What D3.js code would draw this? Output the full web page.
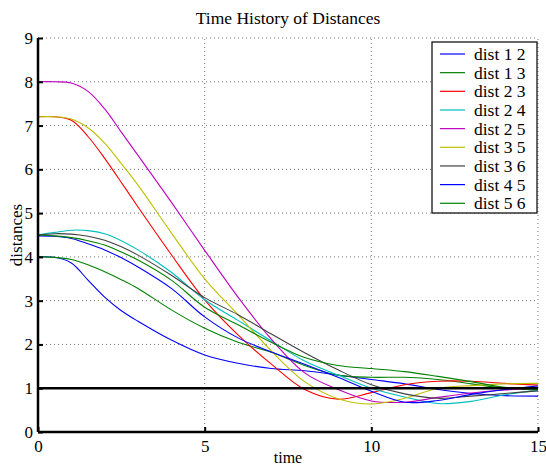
<!DOCTYPE html>
<html>
<head>
<meta charset="utf-8">
<script src="https://cdn.jsdelivr.net/npm/d3@7"></script>
<style>
  body { margin: 0; background: #fff; }
  svg text { font-family: "Liberation Serif", "Times New Roman", Times, "DejaVu Serif", serif; }
</style>
</head>
<body>
<div id="chart"></div>
<script>
// sample times
const times = [0, 0.5, 1, 1.5, 2, 2.5, 3, 4, 5, 6, 7, 8, 9, 10, 11, 12, 13, 14, 15];

const dist12 = [4.0, 3.99, 3.86, 3.47, 3.08, 2.77, 2.53, 2.1, 1.76, 1.57, 1.45, 1.4, 1.3, 1.2, 1.1, 0.97, 0.88, 0.83, 0.82];
const dist13 = [4.0, 3.99, 3.94, 3.82, 3.66, 3.48, 3.28, 2.79, 2.37, 2.05, 1.82, 1.52, 1.3, 1.25, 1.25, 1.2, 1.1, 1.0, 0.96];
const dist23 = [7.2, 7.2, 7.12, 6.75, 6.25, 5.7, 5.14, 4.05, 3.02, 2.22, 1.55, 0.97, 0.75, 0.9, 1.08, 1.16, 1.16, 1.11, 1.07];
const dist24 = [4.5, 4.56, 4.61, 4.6, 4.53, 4.37, 4.16, 3.65, 3.02, 2.55, 2.08, 1.62, 1.3, 1.0, 0.8, 0.65, 0.7, 0.85, 0.95];
const dist25 = [8.0, 8.0, 7.97, 7.78, 7.38, 6.85, 6.32, 5.25, 4.15, 3.08, 2.12, 1.35, 0.97, 0.71, 0.68, 0.79, 0.89, 0.96, 1.0];
const dist35 = [7.2, 7.2, 7.15, 6.95, 6.6, 6.13, 5.64, 4.55, 3.5, 2.68, 1.85, 1.15, 0.76, 0.64, 0.77, 1.0, 1.06, 1.1, 1.11];
const dist36 = [4.5, 4.53, 4.52, 4.47, 4.38, 4.23, 4.04, 3.58, 3.07, 2.68, 2.24, 1.81, 1.42, 1.08, 0.87, 0.77, 0.82, 0.88, 0.94];
const dist45 = [4.48, 4.47, 4.42, 4.3, 4.16, 3.98, 3.77, 3.28, 2.63, 2.15, 1.83, 1.55, 1.25, 0.93, 0.68, 0.72, 0.86, 0.97, 1.05];
const dist56 = [4.5, 4.48, 4.44, 4.37, 4.27, 4.11, 3.93, 3.47, 2.85, 2.45, 2.05, 1.7, 1.52, 1.45, 1.38, 1.27, 1.15, 1.02, 0.98];

const seriesNames = ["dist 1 2", "dist 1 3", "dist 2 3", "dist 2 4", "dist 2 5", "dist 3 5", "dist 3 6", "dist 4 5", "dist 5 6"];
const seriesValues = [dist12, dist13, dist23, dist24, dist25, dist35, dist36, dist45, dist56];
const seriesColors = ["#0000ff", "#008000", "#ff0000", "#00bfbf", "#bf00bf", "#bfbf00", "#404040", "#0000ff", "#008000"];

const xTicks = [0, 5, 10, 15];
const yTicks = [0, 1, 2, 3, 4, 5, 6, 7, 8, 9];
const threshold = 1;

const W = 546, H = 468;
const margin = { top: 38, right: 8, bottom: 36, left: 38 };
const serif = '"Liberation Serif", "Times New Roman", Times, serif';

const svg = d3.select("#chart")
  .append("svg")
  .attr("width", W)
  .attr("height", H);

const x = d3.scaleLinear().domain([0, 15]).range([margin.left, W - margin.right]);
const y = d3.scaleLinear().domain([0, 9]).range([H - margin.bottom, margin.top]);

// dotted grid
svg.append("g")
  .selectAll("line")
  .data(yTicks.slice(1))
  .join("line")
  .attr("x1", x(0)).attr("x2", x(15))
  .attr("y1", d => y(d)).attr("y2", d => y(d))
  .attr("stroke", "#777")
  .attr("stroke-dasharray", "1,3");

svg.append("g")
  .selectAll("line")
  .data(xTicks.slice(1))
  .join("line")
  .attr("y1", y(0)).attr("y2", y(9))
  .attr("x1", d => x(d)).attr("x2", d => x(d))
  .attr("stroke", "#777")
  .attr("stroke-dasharray", "1,3");

// distance curves
const line = d3.line()
  .x((d, i) => x(times[i]))
  .y(d => y(d))
  .curve(d3.curveCatmullRom.alpha(0.5));

svg.append("g")
  .selectAll("path")
  .data(seriesValues)
  .join("path")
  .attr("d", line)
  .attr("fill", "none")
  .attr("stroke", (d, i) => seriesColors[i])
  .attr("stroke-width", 1.1);

// threshold line
svg.append("line")
  .attr("x1", x(0)).attr("x2", x(15))
  .attr("y1", y(threshold)).attr("y2", y(threshold))
  .attr("stroke", "#000")
  .attr("stroke-width", 2.5);

// axes
const xAxis = svg.append("g")
  .attr("transform", `translate(0,${y(0)})`)
  .call(d3.axisBottom(x).tickValues(xTicks).tickSize(-5).tickPadding(8).tickFormat(d3.format("d")));
const yAxis = svg.append("g")
  .attr("transform", `translate(${x(0)},0)`)
  .call(d3.axisLeft(y).tickValues(yTicks).tickSize(-5).tickPadding(5).tickFormat(d3.format("d")));

[xAxis, yAxis].forEach(g => {
  g.attr("font-family", serif).attr("font-size", 17);
  g.select(".domain").attr("stroke", "#000").attr("stroke-width", 2.5);
  g.selectAll(".tick line").attr("stroke", "#000").attr("stroke-width", 2);
  g.selectAll(".tick text").attr("fill", "#000");
});
xAxis.select(".domain").attr("d", `M${x(0)},0H${x(15)}`);
yAxis.select(".domain").attr("d", `M0,${y(0)}V${y(9)}`);

// titles
svg.append("text")
  .attr("x", (x(0) + x(15)) / 2)
  .attr("y", 24)
  .attr("text-anchor", "middle")
  .attr("font-family", serif)
  .style("font-size", "17.5px")
  .text("Time History of Distances");

svg.append("text")
  .attr("x", (x(0) + x(15)) / 2)
  .attr("y", 463)
  .attr("text-anchor", "middle")
  .attr("font-family", serif)
  .style("font-size", "16px")
  .text("time");

svg.append("text")
  .attr("transform", `translate(22,${(y(0) + y(9)) / 2}) rotate(-90)`)
  .attr("text-anchor", "middle")
  .attr("font-family", serif)
  .style("font-size", "17px")
  .text("distances");

// legend
const legend = svg.append("g").attr("transform", "translate(432,42)");
legend.append("rect")
  .attr("width", 105)
  .attr("height", 171)
  .attr("fill", "#fff")
  .attr("stroke", "#000")
  .attr("stroke-width", 1.2);

legend.selectAll("g.item")
  .data(seriesNames)
  .join("g")
  .attr("class", "item")
  .attr("transform", (d, i) => `translate(0,${12 + i * 18.66})`)
  .each(function (d, i) {
    const g = d3.select(this);
    g.append("line")
      .attr("x1", 8).attr("x2", 33)
      .attr("stroke", seriesColors[i])
      .attr("stroke-width", 1.2);
    g.append("text")
      .attr("x", 42)
      .attr("dy", "0.35em")
      .attr("font-family", serif)
      .style("font-size", "17.5px")
      .text(d);
  });
</script>
</body>
</html>
